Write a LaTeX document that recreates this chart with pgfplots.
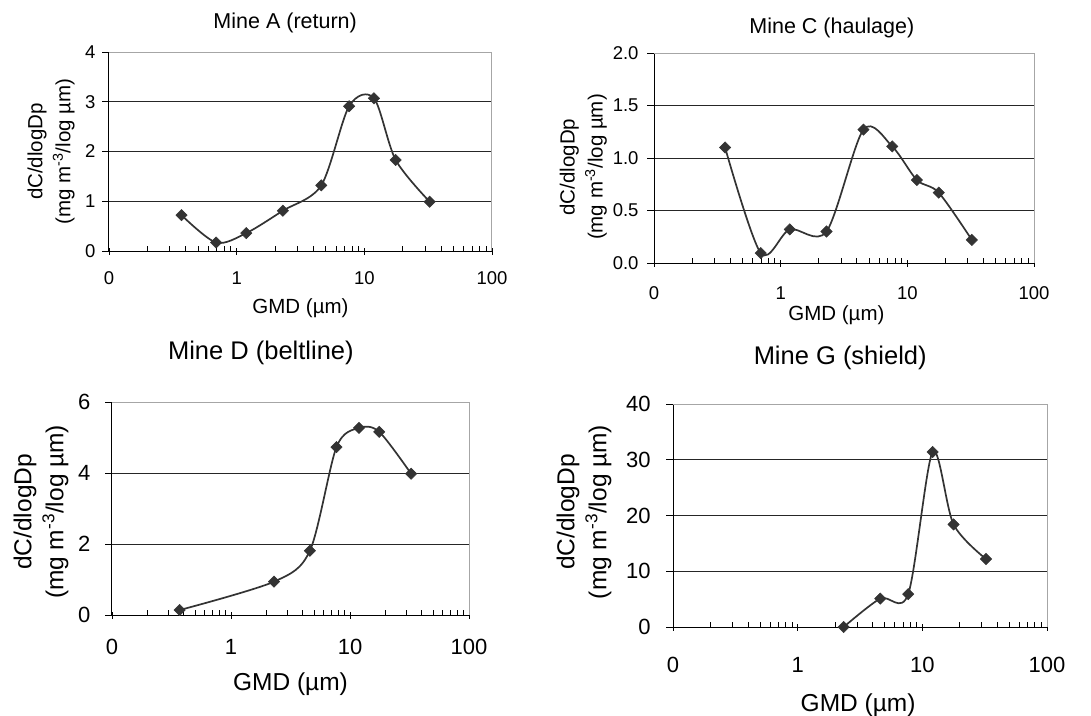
\documentclass[border=0pt]{standalone}
\usepackage{pgfplots}
\pgfplotsset{compat=1.18}
\usepackage{fontspec}
\setmainfont{Liberation Sans}

\definecolor{curvecol}{HTML}{333333}
\pgfkeys{/pgf/number format/assume math mode=true}

\newcommand{\plotborder}{\draw[gray!70, line width=1pt] (rel axis cs:0,1) -- (rel axis cs:1,1) -- (rel axis cs:1,0);}

\begin{document}
\begin{tikzpicture}
\path[use as bounding box] (0,0) rectangle (1091pt,-715pt);

% Mine A
\begin{axis}[scale only axis, anchor=south west,
    xmode=log, xmin=0.1, xmax=100,
    xtick={0.1,1,10,100}, xticklabels={0,1,10,100},
    minor xtick={0.2,0.3,0.4,0.5,0.6,0.7,0.8,0.9,2,3,4,5,6,7,8,9,20,30,40,50,60,70,80,90},
    axis x line*=bottom, axis y line*=left,
    axis line style={-, black, line width=1pt},
    xtick align=center, ytick align=outside, major tick length=7pt, minor tick length=5pt,
    every minor x tick/.append style={yshift=2.5pt},
    tick style={black, line width=0.9pt},
    ymajorgrids, grid style={black!85, line width=0.9pt}, clip=false,
    tick label style={font=\fontsize{18.5}{22}\selectfont},
    xticklabel style={yshift=-14pt}, yticklabel style={xshift=-3pt},
    at={(109pt,-251pt)}, width=383pt, height=199pt,
    ymin=0, ymax=4, ytick={0,1,2,3,4},
    title={Mine A (return)},
    title style={font=\fontsize{21.5}{26}\selectfont, anchor=south, at={(axis description cs:0.46,1)}, yshift=10pt},
    xlabel={GMD (µm)},
    xlabel style={font=\fontsize{20.5}{25}\selectfont, anchor=north, at={(axis description cs:0.5,0)}, yshift=-44pt},
    ylabel={dC/dlogDp\\(mg m\textsuperscript{-3}/log µm)},
    ylabel style={font=\fontsize{20.5}{28}\selectfont, anchor=center, align=center, at={(axis description cs:-0.151,0.5)}}]
  \plotborder
  \addplot[color=curvecol, line width=1.7pt, smooth, mark=square*, mark size=4pt, mark options={rotate=45, fill=curvecol, line width=0.5pt}]
    coordinates {(0.37,0.72) (0.69,0.17) (1.19,0.36) (2.3,0.81) (4.6,1.32) (7.6,2.91) (11.9,3.07) (17.6,1.83) (32.5,0.99)};
\end{axis}

% Mine C
\begin{axis}[scale only axis, anchor=south west,
    xmode=log, xmin=0.1, xmax=100,
    xtick={0.1,1,10,100}, xticklabels={0,1,10,100},
    minor xtick={0.2,0.3,0.4,0.5,0.6,0.7,0.8,0.9,2,3,4,5,6,7,8,9,20,30,40,50,60,70,80,90},
    axis x line*=bottom, axis y line*=left,
    axis line style={-, black, line width=1pt},
    xtick align=center, ytick align=outside, major tick length=7pt, minor tick length=5pt,
    every minor x tick/.append style={yshift=2.5pt},
    tick style={black, line width=0.9pt},
    ymajorgrids, grid style={black!85, line width=0.9pt}, clip=false,
    tick label style={font=\fontsize{18.5}{22}\selectfont},
    xticklabel style={yshift=-17pt},
    at={(654pt,-263pt)}, width=380pt, height=210pt,
    ymin=0, ymax=2, ytick={0,0.5,1,1.5,2},
    yticklabel style={xshift=-5pt, /pgf/number format/.cd, fixed, fixed zerofill, precision=1},
    title={Mine C (haulage)},
    title style={font=\fontsize{21.5}{26}\selectfont, anchor=south, at={(axis description cs:0.468,1)}, yshift=6pt},
    xlabel={GMD (µm)},
    xlabel style={font=\fontsize{20.5}{25}\selectfont, anchor=north, at={(axis description cs:0.48,0)}, yshift=-39pt},
    ylabel={dC/dlogDp\\(mg m\textsuperscript{-3}/log µm)},
    ylabel style={font=\fontsize{20.5}{28}\selectfont, anchor=center, align=center, at={(axis description cs:-0.186,0.457)}}]
  \plotborder
  \addplot[color=curvecol, line width=1.7pt, smooth, mark=square*, mark size=4pt, mark options={rotate=45, fill=curvecol, line width=0.5pt}]
    coordinates {(0.364,1.10) (0.696,0.095) (1.18,0.32) (2.3,0.30) (4.5,1.27) (7.6,1.11) (11.9,0.79) (17.7,0.67) (32.3,0.22)};
\end{axis}

% Mine D
\begin{axis}[scale only axis, anchor=south west,
    xmode=log, xmin=0.1, xmax=100,
    xtick={0.1,1,10,100}, xticklabels={0,1,10,100},
    minor xtick={0.2,0.3,0.4,0.5,0.6,0.7,0.8,0.9,2,3,4,5,6,7,8,9,20,30,40,50,60,70,80,90},
    axis x line*=bottom, axis y line*=left,
    axis line style={-, black, line width=1pt},
    xtick align=center, ytick align=outside, major tick length=7pt, minor tick length=5pt,
    every minor x tick/.append style={yshift=2.5pt},
    tick style={black, line width=0.9pt},
    ymajorgrids, grid style={black!85, line width=0.9pt}, clip=false,
    tick label style={font=\fontsize{22}{26}\selectfont},
    xticklabel style={yshift=-17pt}, yticklabel style={xshift=-11pt},
    at={(112pt,-615pt)}, width=357pt, height=213pt,
    ymin=0, ymax=6, ytick={0,2,4,6},
    title={Mine D (beltline)},
    title style={font=\fontsize{25.5}{30}\selectfont, anchor=south, at={(axis description cs:0.417,1)}, yshift=28pt},
    xlabel={GMD (µm)},
    xlabel style={font=\fontsize{24.5}{29}\selectfont, anchor=north, at={(axis description cs:0.5,0)}, yshift=-54pt},
    ylabel={dC/dlogDp\\(mg m\textsuperscript{-3}/log µm)},
    ylabel style={font=\fontsize{24.5}{32}\selectfont, anchor=center, align=center, at={(axis description cs:-0.199,0.484)}}]
  \plotborder
  \addplot[color=curvecol, line width=1.7pt, smooth, mark=square*, mark size=4pt, mark options={rotate=45, fill=curvecol, line width=0.5pt}]
    coordinates {(0.37,0.14) (2.3,0.94) (4.6,1.81) (7.7,4.73) (11.9,5.27) (17.6,5.16) (32.6,3.98)};
\end{axis}

% Mine G
\begin{axis}[scale only axis, anchor=south west,
    xmode=log, xmin=0.1, xmax=100,
    xtick={0.1,1,10,100}, xticklabels={0,1,10,100},
    minor xtick={0.2,0.3,0.4,0.5,0.6,0.7,0.8,0.9,2,3,4,5,6,7,8,9,20,30,40,50,60,70,80,90},
    axis x line*=bottom, axis y line*=left,
    axis line style={-, black, line width=1pt},
    xtick align=center, ytick align=outside, major tick length=7pt, minor tick length=5pt,
    every minor x tick/.append style={yshift=2.5pt},
    tick style={black, line width=0.9pt},
    ymajorgrids, grid style={black!85, line width=0.9pt}, clip=false,
    tick label style={font=\fontsize{22}{26}\selectfont},
    xticklabel style={yshift=-23pt}, yticklabel style={xshift=-12pt},
    at={(673pt,-627pt)}, width=374pt, height=223pt,
    ymin=0, ymax=40, ytick={0,10,20,30,40},
    title={Mine G (shield)},
    title style={font=\fontsize{25.5}{30}\selectfont, anchor=south, at={(axis description cs:0.447,1)}, yshift=25pt},
    xlabel={GMD (µm)},
    xlabel style={font=\fontsize{24.5}{29}\selectfont, anchor=north, at={(axis description cs:0.495,0)}, yshift=-63pt},
    ylabel={dC/dlogDp\\(mg m\textsuperscript{-3}/log µm)},
    ylabel style={font=\fontsize{24.5}{32}\selectfont, anchor=center, align=center, at={(axis description cs:-0.238,0.516)}}]
  \plotborder
  \addplot[color=curvecol, line width=1.7pt, smooth, mark=square*, mark size=4pt, mark options={rotate=45, fill=curvecol, line width=0.5pt}]
    coordinates {(2.34,0) (4.6,5.1) (7.7,5.9) (12.1,31.4) (17.8,18.4) (32.4,12.2)};
\end{axis}

\end{tikzpicture}
\end{document}
